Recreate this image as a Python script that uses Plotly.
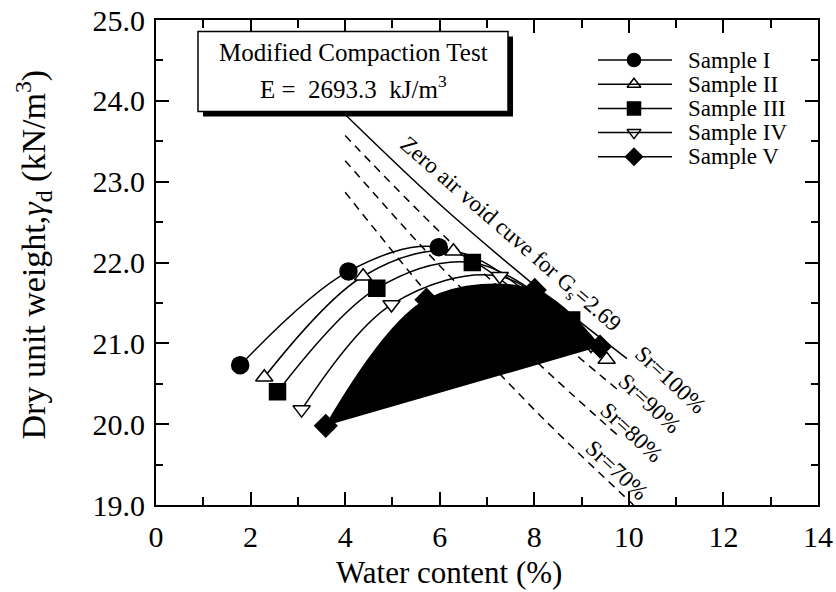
import plotly.graph_objects as go

# ---------------- data ----------------
sample_names = ["Sample I", "Sample II", "Sample III", "Sample IV", "Sample V"]

w_s1 = [1.78, 4.07, 5.98, 7.90]
g_s1 = [20.73, 21.89, 22.19, 21.50]
w_s2 = [2.29, 4.38, 6.29, 8.10, 9.53]
g_s2 = [20.58, 21.83, 22.14, 21.52, 20.80]
w_s3 = [2.57, 4.67, 6.69, 8.79]
g_s3 = [20.40, 21.68, 22.00, 21.29]
w_s4 = [3.08, 4.98, 7.27, 9.20]
g_s4 = [20.18, 21.48, 21.83, 20.98]
w_s5 = [3.59, 5.72, 8.01, 9.39]
g_s5 = [19.98, 21.54, 21.66, 20.96]

w_zav = [4.0, 6.0, 8.0, 9.96]
g_zav = [23.83, 22.72, 21.72, 20.81]
w_sr90 = [4.0, 6.0, 8.0, 9.80]
g_sr90 = [23.57, 22.38, 21.30, 20.41]
w_sr80 = [4.0, 6.0, 8.0, 9.75]
g_sr80 = [23.26, 21.96, 20.80, 19.87]
w_sr70 = [4.0, 6.0, 8.0, 10.10]
g_sr70 = [22.87, 21.44, 20.18, 19.00]

sr_labels = ["Sr=100%", "Sr=90%", "Sr=80%", "Sr=70%"]
zav_label = "Zero air void cuve for G<sub>s</sub>=2.69"
box_line1 = "Modified Compaction Test"
box_line2 = "E =\u00a0\u00a02693.3\u00a0\u00a0kJ/m<sup>3</sup>"
x_title = "Water content (%)"
y_title = "Dry unit weight,<i>\u03b3</i><sub>d</sub> (kN/m<sup>3</sup>)"

x_ticks = [0, 2, 4, 6, 8, 10, 12, 14]
y_ticks = [19, 20, 21, 22, 23, 24, 25]

# ---------------- styling ----------------
FONT = "Liberation Serif, Times New Roman, serif"
symbols = ["circle", "triangle-up", "square", "triangle-down", "diamond"]
fills = ["black", "white", "black", "white", "black"]
sizes = [17, 15, 16, 15, 17]
leg_sizes = [13, 12, 13, 12, 13]

series = [(w_s1, g_s1), (w_s2, g_s2), (w_s3, g_s3), (w_s4, g_s4), (w_s5, g_s5)]

fig = go.Figure()

# saturation lines
fig.add_trace(go.Scatter(x=w_zav, y=g_zav, mode="lines", line=dict(color="black", width=1.5, shape="spline"),
                         showlegend=False, hoverinfo="skip"))
for wx, gy in [(w_sr90, g_sr90), (w_sr80, g_sr80), (w_sr70, g_sr70)]:
    fig.add_trace(go.Scatter(x=wx, y=gy, mode="lines",
                             line=dict(color="black", width=1.5, dash="8px,6px", shape="spline"),
                             showlegend=False, hoverinfo="skip"))

# compaction curves
for i, (wx, gy) in enumerate(series):
    kw = {}
    if i == 4:
        kw = dict(fill="toself", fillcolor="black")
    fig.add_trace(go.Scatter(
        x=wx, y=gy, mode="lines+markers", name=sample_names[i],
        line=dict(color="black", width=1.5, shape="spline", smoothing=1.0),
        marker=dict(symbol=symbols[i], size=sizes[i], color=fills[i],
                    line=dict(color="black", width=1.5)),
        showlegend=False, **kw))

# ---------------- manual legend & box on a pixel overlay axis ----------------
PW, PH = 662, 485
leg_x0, leg_x1, leg_xm, leg_tx = 442, 516, 478, 530
leg_y0, leg_dy = 40, 24.2
leg_y = [leg_y0 + k * leg_dy for k in range(len(sample_names))]

shapes = []
for k in range(len(sample_names)):
    shapes.append(dict(type="line", xref="x2", yref="y2", x0=leg_x0, x1=leg_x1, y0=leg_y[k], y1=leg_y[k],
                       line=dict(color="black", width=1.5), layer="above"))
# box shadow + box
bx0, bx1, by0, by1 = 42, 352, 11.5, 91.5
shapes.append(dict(type="rect", xref="x2", yref="y2", x0=bx0 + 5, x1=bx1 + 5, y0=by0 + 5, y1=by1 + 5,
                   fillcolor="black", line=dict(width=0), layer="above"))
shapes.append(dict(type="rect", xref="x2", yref="y2", x0=bx0, x1=bx1, y0=by0, y1=by1,
                   fillcolor="white", line=dict(color="black", width=1.5), layer="above"))

for k in range(len(sample_names)):
    fig.add_trace(go.Scatter(
        x=[leg_xm], y=[leg_y[k]], xaxis="x2", yaxis="y2", mode="markers",
        marker=dict(symbol=symbols[k], size=leg_sizes[k], color=fills[k], line=dict(color="black", width=1.5)),
        showlegend=False, hoverinfo="skip"))

annotations = []
for k in range(len(sample_names)):
    annotations.append(dict(xref="x2", yref="y2", x=leg_tx, y=leg_y[k], text=sample_names[k],
                            showarrow=False, xanchor="left", yanchor="middle",
                            font=dict(family=FONT, size=23, color="black")))
annotations.append(dict(xref="x2", yref="y2", x=(bx0 + bx1) / 2, y=32, text=box_line1, showarrow=False,
                        font=dict(family=FONT, size=25, color="black")))
annotations.append(dict(xref="x2", yref="y2", x=(bx0 + bx1) / 2, y=67, text=box_line2, showarrow=False,
                        font=dict(family=FONT, size=25, color="black")))

# line labels
annotations.append(dict(x=7.48, y=22.34, text=zav_label, showarrow=False, textangle=41,
                        font=dict(family=FONT, size=23, color="black")))
sr_pos = [(10.87, 20.55), (10.44, 20.26), (10.06, 19.90), (9.75, 19.43)]
for lab, (sx, sy) in zip(sr_labels, sr_pos):
    annotations.append(dict(x=sx, y=sy, text=lab, showarrow=False, textangle=43,
                            font=dict(family=FONT, size=23, color="black")))

# axis titles
annotations.append(dict(xref="paper", yref="paper", x=(449 - 156) / PW, y=0, yshift=-67, text=x_title,
                        showarrow=False, xanchor="center", yanchor="middle",
                        font=dict(family=FONT, size=31, color="black")))
annotations.append(dict(xref="paper", yref="paper", x=0, xshift=-123, y=0.5, yshift=8, text=y_title,
                        showarrow=False, textangle=-90, xanchor="center", yanchor="middle",
                        font=dict(family=FONT, size=34, color="black")))

axis_common = dict(showgrid=False, zeroline=False, showline=True, linecolor="black", linewidth=2,
                   ticks="inside", ticklen=13, tickwidth=1.5, tickcolor="black", mirror="ticks",
                   automargin=False, ticklabeloverflow="allow",
                   tickfont=dict(family=FONT, size=30, color="black"))

fig.update_layout(
    width=836, height=592,
    margin=dict(l=156, r=18, t=20, b=87, autoexpand=False),
    paper_bgcolor="white", plot_bgcolor="white",
    showlegend=False,
    font=dict(family=FONT, color="black"),
    xaxis=dict(range=[0, 14], tickvals=x_ticks, ticklabelstandoff=4,
               minor=dict(ticks="inside", ticklen=8, tickwidth=1.5, tickcolor="black", dtick=1),
               **axis_common),
    yaxis=dict(range=[19, 25], tickvals=y_ticks, tickformat=".1f", ticklabelstandoff=3,
               minor=dict(ticks="inside", ticklen=7, tickwidth=1.5, tickcolor="black", dtick=0.5),
               **axis_common),
    xaxis2=dict(overlaying="x", range=[0, PW], visible=False, fixedrange=True),
    yaxis2=dict(overlaying="y", range=[PH, 0], visible=False, fixedrange=True),
    shapes=shapes,
    annotations=annotations,
)

# remove the page's default 8 px body margin so the 836x592 figure fills the window exactly
fig.write_html("out.html", config={"displayModeBar": False},
               post_script="document.body.style.margin='0';document.body.style.overflow='hidden';")
